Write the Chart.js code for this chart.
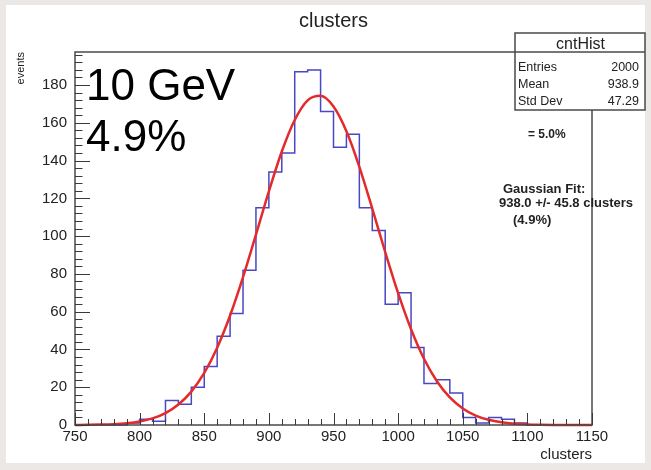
<!DOCTYPE html>
<html>
<head>
<meta charset="utf-8">
<script src="https://cdn.jsdelivr.net/npm/chart.js@4.4.1/dist/chart.umd.min.js"></script>
<style>
html,body{margin:0;padding:0;background:#ebe8e5;}
canvas{display:block;}
</style>
</head>
<body>
<canvas id="c" width="651" height="470"></canvas>
<script>
// ---------- data ----------
const binLows = [750,760,770,780,790,800,810,820,830,840,850,860,870,880,890,900,910,920,930,940,
                 950,960,970,980,990,1000,1010,1020,1030,1040,1050,1060,1070,1080,1090,1100,1110,1120,1130,1140];
const counts  = [0,0,0,0,1,3,2,13,11,20,31,47,59,82,115,134,144,187,188,166,
                 147,154,115,103,64,70,41,22,24,17,4,1,4,3,1,0,0,0,0,0];
const xLast = 1150;

const fitX = [750,760,770,780,790,800,810,820,830,840,850,860,870,880,890,900,910,920,930,940,
              950,960,970,980,990,1000,1010,1020,1030,1040,1050,1060,1070,1080,1090,1100,1110,1120,1130,1140,1150];
const fitY = [0.04,0.09,0.21,0.45,0.94,1.86,3.51,6.31,10.83,17.68,27.55,40.94,57.97,78.27,100.8,123.7,144.8,161.5,171.9,174.3,
              168.6,155.5,136.7,114.6,91.6,69.8,50.7,35.1,23.2,14.6,8.78,5.02,2.74,1.43,0.71,0.33,0.15,0.06,0.03,0.01,0.0];

const xTickValues = [750,800,850,900,950,1000,1050,1100,1150];
const yTickValues = [0,20,40,60,80,100,120,140,160,180];

const statTitle  = 'cntHist';
const statLabels = ['Entries','Mean','Std Dev'];
const statValues = ['2000','938.9','47.29'];

const bigLines  = ['10 GeV','4.9%'];
const noteRatio = '= 5.0%';
const fitLines  = ['Gaussian Fit:','938.0 +/- 45.8 clusters','(4.9%)'];

// ---------- chart ----------
const FONT = '"Liberation Sans", Arial, Helvetica, sans-serif';
Chart.defaults.font.family = FONT;

const histPoints = binLows.map((x, i) => ({x: x, y: counts[i]}));
histPoints.push({x: xLast, y: counts[counts.length - 1]});
const fitPoints = fitX.map((x, i) => ({x: x, y: fitY[i]}));

const bgPlugin = {
  id: 'bg',
  beforeDraw(chart) {
    const ctx = chart.ctx;
    ctx.save();
    ctx.fillStyle = '#ebe8e5';
    ctx.fillRect(0, 0, chart.width, chart.height);
    ctx.fillStyle = '#ffffff';
    ctx.fillRect(6, 5, 639, 458);
    ctx.restore();
  }
};

const decorPlugin = {
  id: 'decor',
  afterDraw(chart) {
    const ctx = chart.ctx;
    const {left, right, top, bottom} = chart.chartArea;
    const xs = chart.scales.x, ys = chart.scales.y;
    ctx.save();
    // frame
    ctx.strokeStyle = '#4a4a4a';
    ctx.lineWidth = 1.5;
    ctx.strokeRect(left, top, right - left, bottom - top);
    // x ticks (inside)
    ctx.lineWidth = 1;
    ctx.strokeStyle = '#3a3a3a';
    const xMinor = 10;
    for (let v = xs.min; v <= xs.max + 1e-6; v += xMinor) {
      const px = Math.round(xs.getPixelForValue(v)) + 0.5;
      const major = xTickValues.includes(v);
      ctx.beginPath();
      ctx.moveTo(px, bottom);
      ctx.lineTo(px, bottom - (major ? 12 : 6));
      ctx.stroke();
    }
    // y ticks (inside)
    const yMinor = 4;
    for (let v = 0; v <= ys.max + 1e-6; v += yMinor) {
      const py = Math.round(ys.getPixelForValue(v)) + 0.5;
      const major = yTickValues.includes(v);
      ctx.beginPath();
      ctx.moveTo(left, py);
      ctx.lineTo(left + (major ? 15 : 7.5), py);
      ctx.stroke();
    }
    // big labels
    ctx.fillStyle = '#000';
    ctx.textAlign = 'left';
    ctx.textBaseline = 'alphabetic';
    ctx.font = '44px ' + FONT;
    ctx.fillText(bigLines[0], 86, 100);
    ctx.fillText(bigLines[1], 86, 151);
    // notes
    ctx.fillStyle = '#222';
    ctx.font = 'bold 12px ' + FONT;
    ctx.fillText(noteRatio, 528, 138);
    ctx.font = 'bold 13px ' + FONT;
    ctx.fillText(fitLines[0], 503, 193);
    ctx.fillText(fitLines[1], 499, 207);
    ctx.fillText(fitLines[2], 513, 224);
    // stats box
    const bx = 515, by = 33, bw = 130, bh = 77;
    ctx.fillStyle = '#fff';
    ctx.fillRect(bx, by, bw, bh);
    ctx.strokeStyle = '#4a4a4a';
    ctx.lineWidth = 1.5;
    ctx.strokeRect(bx, by, bw, bh);
    ctx.beginPath();
    ctx.moveTo(bx, 52); ctx.lineTo(bx + bw, 52);
    ctx.stroke();
    ctx.fillStyle = '#222';
    ctx.font = '16px ' + FONT;
    ctx.textAlign = 'center';
    ctx.fillText(statTitle, bx + bw / 2 + 0.5, 49);
    ctx.font = '12.5px ' + FONT;
    const rowsY = [71, 88, 105];
    statLabels.forEach((t, i) => {
      ctx.textAlign = 'left';
      ctx.fillText(t, 518, rowsY[i]);
      ctx.textAlign = 'right';
      ctx.fillText(statValues[i], 639, rowsY[i]);
    });
    ctx.restore();
  }
};

new Chart(document.getElementById('c'), {
  type: 'line',
  data: {
    datasets: [
      {
        label: 'fit',
        data: fitPoints,
        borderColor: '#e42a2a',
        borderWidth: 2.5,
        pointRadius: 0,
        cubicInterpolationMode: 'monotone',
        fill: false,
        clip: 4,
        order: 0
      },
      {
        label: 'cntHist',
        data: histPoints,
        borderColor: '#4848c2',
        borderWidth: 1.5,
        pointRadius: 0,
        stepped: 'before',
        fill: false,
        clip: 4,
        order: 1
      }
    ]
  },
  options: {
    responsive: false,
    animation: false,
    devicePixelRatio: 1,
    layout: {padding: {left: 6, right: 59, top: 0, bottom: 5}},
    plugins: {
      legend: {display: false},
      tooltip: {enabled: false},
      title: {
        display: true, text: 'clusters', fullSize: false,
        color: '#222', font: {size: 20, weight: 'normal'},
        padding: {top: 9, bottom: 19}
      }
    },
    scales: {
      x: {
        type: 'linear', min: 750, max: 1150,
        afterFit(s) { s.height = 40; },
        afterBuildTicks(s) { s.ticks = xTickValues.map(v => ({value: v})); },
        grid: {display: false, drawTicks: false},
        border: {display: false},
        ticks: {padding: 3, maxRotation: 0, autoSkip: false, color: '#222', font: {size: 15},
                callback: v => String(v)},
        title: {display: true, text: 'clusters', align: 'end', color: '#222',
                font: {size: 15}, padding: {top: 0, bottom: 1}}
      },
      y: {
        type: 'linear', min: 0, max: 197.5,
        afterFit(s) { s.width = 69; },
        afterBuildTicks(s) { s.ticks = yTickValues.map(v => ({value: v})); },
        grid: {display: false, drawTicks: false},
        border: {display: false},
        ticks: {padding: 8, color: '#222', font: {size: 15}, callback: v => String(v)},
        title: {display: true, text: 'events', align: 'end', color: '#222',
                font: {size: 11}, padding: {top: 8, bottom: 0}}
      }
    }
  },
  plugins: [bgPlugin, decorPlugin]
});
</script>
</body>
</html>
